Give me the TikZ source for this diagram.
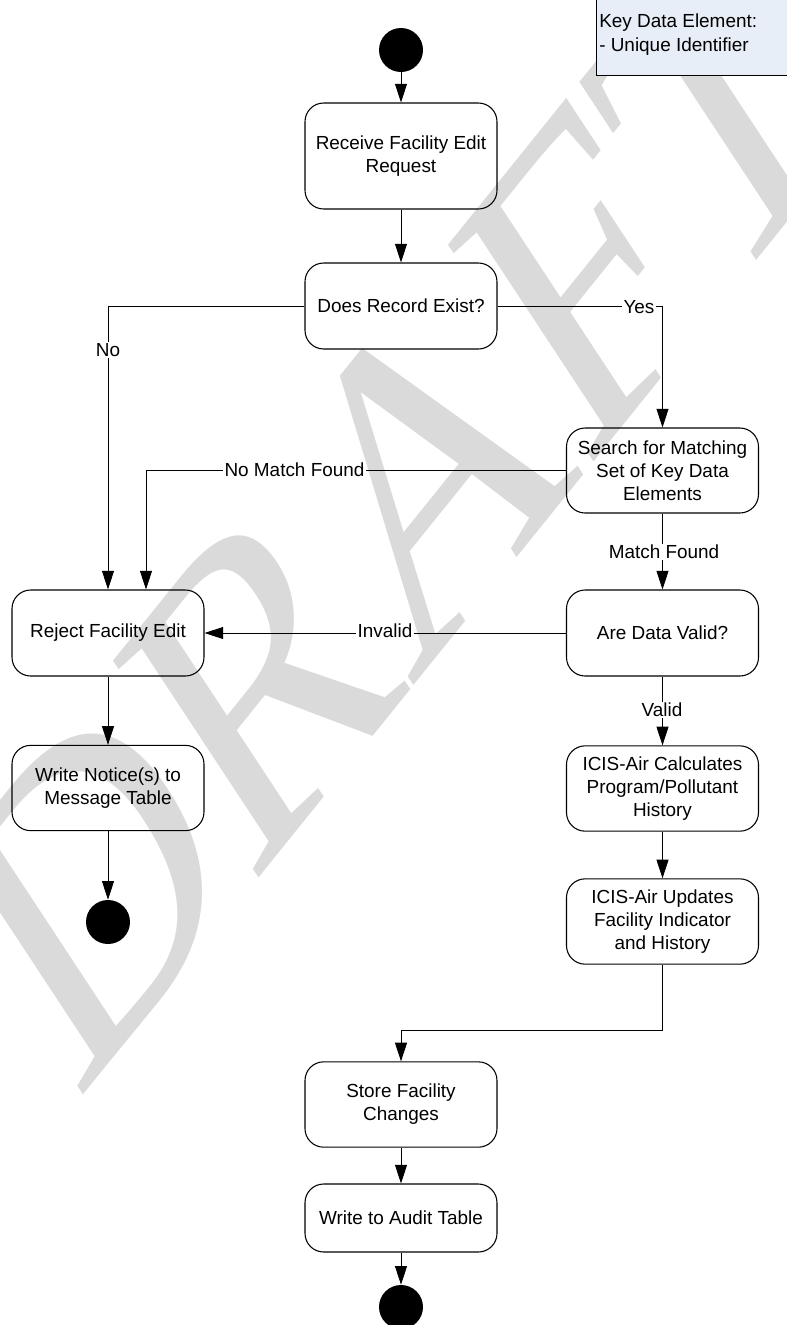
\documentclass[tikz,border=0pt]{standalone}
\usepackage{fontspec}
\setmainfont{Liberation Sans}
\newfontfamily\wmserif{Liberation Serif}
\usetikzlibrary{arrows.meta}
\definecolor{wmgray}{RGB}{218,218,218}
\definecolor{keyfill}{RGB}{232,238,247}

\begin{document}
\begin{tikzpicture}[x=0.75pt, y=-0.75pt,
  every node/.style={font=\fontsize{14.2pt}{17.3pt}\selectfont},
  act/.style={draw, line width=0.8pt, rounded corners=14pt, minimum width=144pt,
    align=center, inner sep=2pt},
  dot/.style={circle, fill=black, minimum size=33pt, inner sep=0pt},
  flow/.style={line width=0.6pt, -{Triangle[length=14pt,width=9pt]}},
  plain/.style={line width=0.6pt},
  lbl/.style={fill=white, inner sep=1pt},
]
\path[use as bounding box] (0,0) rectangle (787,1325);
\clip (0,0) rectangle (787,1325);

% background watermark, slanted and stretched across the page
\begin{scope}[shift={(399,504)}, cm={0.753,0.934,-0.6875,1.044,(0,0)}]
  \node[transform shape, inner sep=0pt, text=wmgray,
        font=\wmserif\fontsize{240pt}{240pt}\selectfont] (wm) at (0,0) {DRAFT};
\end{scope}

% legend box
\node[draw, line width=0.8pt, fill=keyfill, minimum width=145pt, minimum height=58pt,
      inner sep=0pt] (key) at (693,37) {};
\node[anchor=north west, align=left, inner sep=0pt] (keytext) at (599,14)
  {Key Data Element:\\- Unique Identifier};

% activity nodes
\node[dot] (start) at (401,50) {};
\node[act, minimum height=79.5pt] (receive) at (401,156) {Receive Facility Edit\\Request};
\node[act, minimum height=64.5pt] (exists) at (401,306) {Does Record Exist?};
\node[act, minimum height=63.75pt] (search) at (662.5,470.5) {Search for Matching\\Set of Key Data\\Elements};
\node[act, minimum height=64.5pt] (valid) at (662.5,633) {Are Data Valid?};
\node[act, minimum height=64.5pt] (reject) at (108,633) {Reject Facility Edit};
\node[act, minimum height=64pt] (notice) at (108,788) {Write Notice(s) to\\Message Table};
\node[dot] (end1) at (108,922) {};
\node[act, minimum height=64pt] (calc) at (662.5,788.5) {ICIS-Air Calculates\\Program/Pollutant\\History};
\node[act, minimum height=64pt] (upd) at (662.5,921.5) {ICIS-Air Updates\\Facility Indicator\\and History};
\node[act, minimum height=64pt] (store) at (401,1104.5) {Store Facility\\Changes};
\node[act, minimum height=51pt] (audit) at (401,1218) {Write to Audit Table};
\node[dot] (end2) at (401,1307) {};
\coordinate (bend) at (662.5,1030);

% connectors
\draw[flow] (start) -- (receive);
\draw[flow] (receive) -- (exists);
\draw[flow] (exists.west) -| (reject.north);
\draw[flow] (exists.east) -| (search.north);
\draw[flow] (search.west) -| ([xshift=28.5pt]reject.north);
\draw[flow] (search) -- (valid);
\draw[flow] (valid.west) -- (reject.east);
\draw[flow] (valid) -- (calc);
\draw[flow] (calc) -- (upd);
\draw[plain] (upd.south) -- (bend);
\draw[flow] (bend) -| (store.north);
\draw[flow] (store) -- (audit);
\draw[flow] (audit) -- (end2);
\draw[flow] (reject) -- (notice);
\draw[flow] (notice) -- (end1);

% connector labels
\node[lbl] (lno) at (108,350) {No};
\node[lbl] (lyes) at (639,307) {Yes};
\node[lbl] (lnomatch) at (294.5,470) {No Match Found};
\node[lbl] (lmatch) at (664,552) {Match Found};
\node[lbl] (linvalid) at (385,631) {Invalid};
\node[lbl] (lvalid) at (662,710) {Valid};
\end{tikzpicture}
\end{document}
